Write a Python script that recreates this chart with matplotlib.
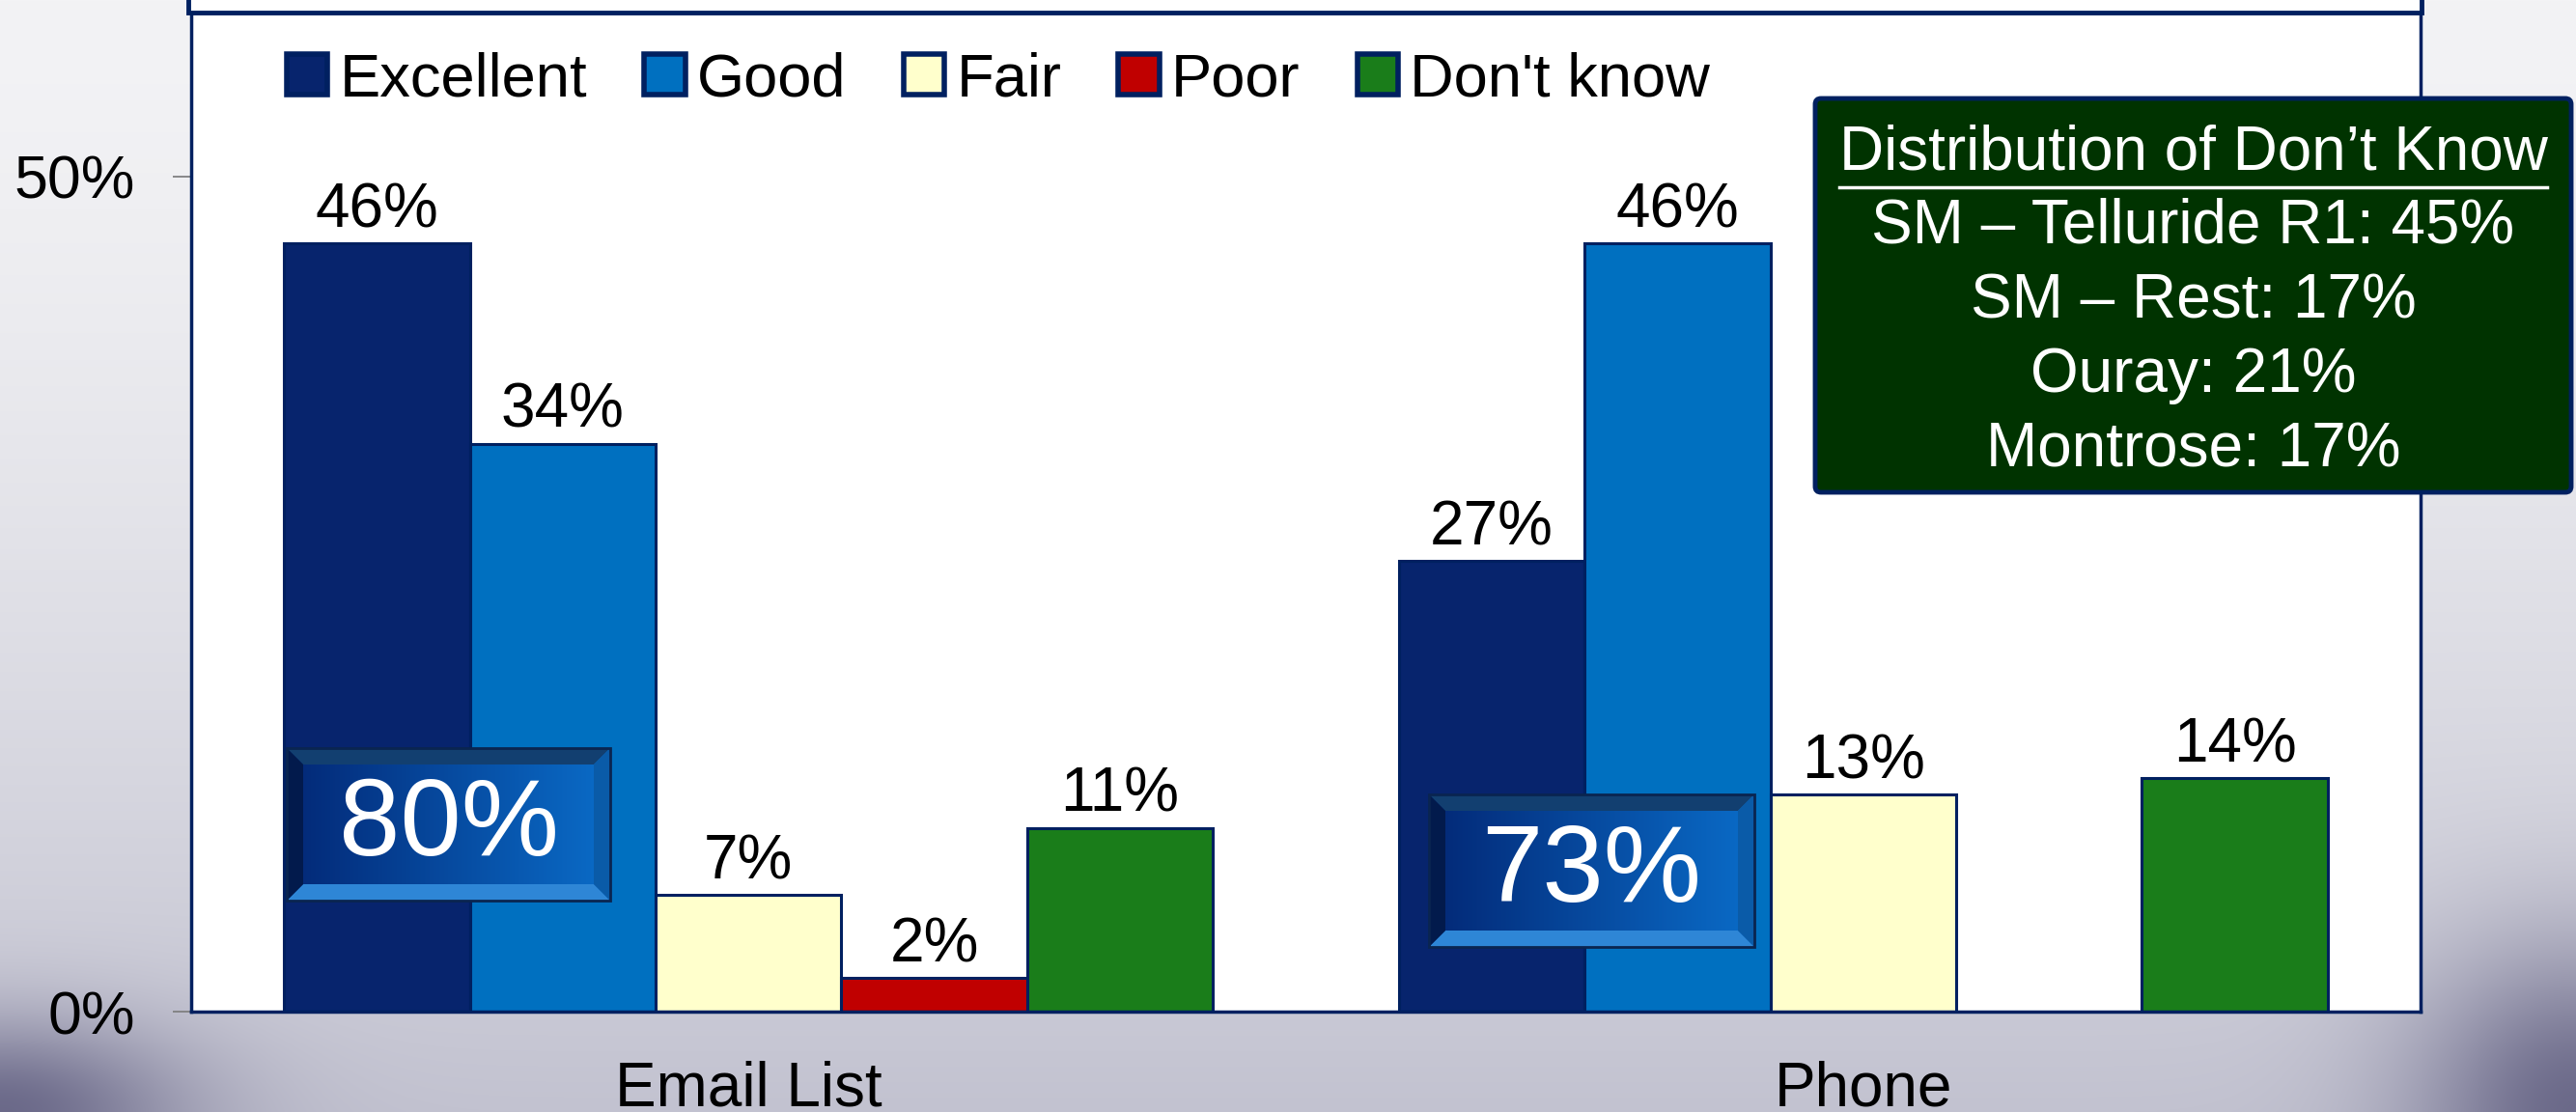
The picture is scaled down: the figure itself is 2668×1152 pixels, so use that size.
import numpy as np
import matplotlib
matplotlib.use("Agg")
import matplotlib.pyplot as plt
import matplotlib.patches as patches
from matplotlib.lines import Line2D

plt.rcParams['font.family'] = ['Liberation Sans', 'DejaVu Sans']

# data
channels = ["Email List", "Phone"]
ratings = ["Excellent", "Good", "Fair", "Poor", "Don't know"]
excellent = [46, 27]
good = [34, 46]
fair = [7, 13]
poor = [2, None]          # no Phone bar shown
dont_know = [11, 14]
series = [excellent, good, fair, poor, dont_know]
positive_totals = ["80%", "73%"]
dk_title = "Distribution of Don\u2019t Know"
dk_lines = ["SM \u2013 Telluride R1: 45%", "SM \u2013 Rest: 17%", "Ouray: 21%", "Montrose: 17%"]

colors = ["#07246D", "#0070C0", "#FFFFCC", "#C00000", "#1A7D1A"]
navy = "#002060"

W, H = 2668, 1152
fig = plt.figure(figsize=(W / 100, H / 100), dpi=100)

# slide background
bg = fig.add_axes([0, 0, 1, 1], zorder=0)
yy, xx = np.mgrid[0:H, 0:W].astype(float)
t = (yy / H)[..., None]
top = np.array([243, 243, 245]) / 255
bot = np.array([194, 194, 208]) / 255
img = top + (bot - top) * t ** 1.5
dark = np.array([92, 90, 125]) / 255
wl = 0.85 * np.exp(-((xx / 200) ** 2 + ((H - yy) / 95) ** 2))[..., None]
wr = 0.85 * np.exp(-(((W - xx) / 170) ** 2 + ((H - yy) / 170) ** 2))[..., None]
img = img * (1 - wl) + dark * wl
img = img * (1 - wr) + dark * wr
bg.imshow(np.clip(img, 0, 1), extent=(0, W, H, 0), aspect='auto')
bg.axis('off')

# main chart
ax = fig.add_axes([198 / W, (H - 1048) / H, (2507 - 198) / W, 1035 / H], zorder=2)
ax.set_facecolor('white')
x = np.arange(len(channels))
width = 1 / 6
for i, (name, vals, col) in enumerate(zip(ratings, series, colors)):
    heights = [np.nan if v is None else v for v in vals]
    bars = ax.bar(x + (i - 2) * width, heights, width, color=col,
                  edgecolor=navy, linewidth=2.2, label=name)
    for b, v in zip(bars, vals):
        if v is None:
            continue
        ax.annotate(f"{v}%", (b.get_x() + b.get_width() / 2, v),
                    xytext=(0, 12), textcoords='offset points',
                    ha='center', va='baseline', fontsize=46)

ax.set_xlim(-0.5, 1.5)
ax.set_ylim(0, 59.8)
ax.set_yticks([0, 50])
ax.set_yticklabels(["0%", "50%"])
ax.set_xticks(x)
ax.set_xticklabels(channels)
ax.tick_params(axis='y', length=14, width=1.3, color='#808080', pad=28, labelsize=45)
ax.tick_params(axis='x', length=0, pad=36, labelsize=46)
for s in ax.spines.values():
    s.set_color(navy)
    s.set_linewidth(2.5)

leg = ax.legend(loc='center left', bbox_to_anchor=(297 / W, 1 - 83 / H),
                bbox_transform=fig.transFigure, ncol=5, frameon=False,
                fontsize=45.5, handlelength=0.67, handleheight=0.64,
                handletextpad=0.2, columnspacing=0.93, borderpad=0,
                borderaxespad=0)
for h in leg.legend_handles:
    h.set_linewidth(4)

# overlay in pixel coords
ov = fig.add_axes([0, 0, 1, 1], zorder=5)
ov.set_xlim(0, W)
ov.set_ylim(H, 0)
ov.axis('off')
ov.patch.set_alpha(0)

# cut-off title box
ov.add_patch(patches.Rectangle((195, -30), 2313, 43, fc='white', ec=navy, lw=3.5))


def bevel_box(x0, y0, x1, y1, label):
    bw = 17
    grad = np.linspace(0, 1, 200)[None, :, None]
    c0 = np.array([3, 40, 118]) / 255
    c1 = np.array([10, 108, 200]) / 255
    face = c0 + (c1 - c0) * grad
    ov.imshow(np.repeat(face, 2, axis=0), extent=(x0, x1, y1, y0),
              aspect='auto', zorder=6)
    ix0, iy0, ix1, iy1 = x0 + bw, y0 + bw, x1 - bw, y1 - bw
    sides = [
        ([(x0, y0), (x1, y0), (ix1, iy0), (ix0, iy0)], '#123F70'),
        ([(x0, y1), (x1, y1), (ix1, iy1), (ix0, iy1)], '#2E86D6'),
        ([(x0, y0), (ix0, iy0), (ix0, iy1), (x0, y1)], '#021A4C'),
        ([(x1, y0), (ix1, iy0), (ix1, iy1), (x1, y1)], '#0A5BA8'),
    ]
    for pts, c in sides:
        ov.add_patch(patches.Polygon(pts, closed=True, fc=c, ec='none', zorder=7))
    ov.add_patch(patches.Rectangle((x0, y0), x1 - x0, y1 - y0, fc='none',
                                   ec='#0A2550', lw=2, zorder=8))
    ov.text((x0 + x1) / 2, (y0 + y1) / 2 + 3, label, color='white', fontsize=82,
            ha='center', va='center', zorder=9)


bevel_box(297, 775, 632, 933, positive_totals[0])
bevel_box(1480, 823, 1817, 981, positive_totals[1])

# Don't know distribution box
ov.add_patch(patches.FancyBboxPatch((1880, 102), 783, 408,
                                    boxstyle='round,pad=0,rounding_size=6',
                                    fc='#003300', ec=navy, lw=3.5, zorder=6))
cx = (1880 + 2663) / 2
title = ov.text(cx, 158, dk_title, color='white', fontsize=46,
                ha='center', va='center', zorder=7)
for k, line in enumerate(dk_lines):
    ov.text(cx, 235 + k * 77, line, color='white', fontsize=46,
            ha='center', va='center', zorder=7)

fig.canvas.draw()
bb = title.get_window_extent(fig.canvas.get_renderer())
inv = ov.transData.inverted()
(ux0, uy), (ux1, _) = inv.transform([(bb.x0, bb.y0), (bb.x1, bb.y0)])
ov.add_line(Line2D([ux0, ux1], [uy + 6, uy + 6], color='white', lw=2.5, zorder=7))

fig.savefig("out.png", dpi=100)
